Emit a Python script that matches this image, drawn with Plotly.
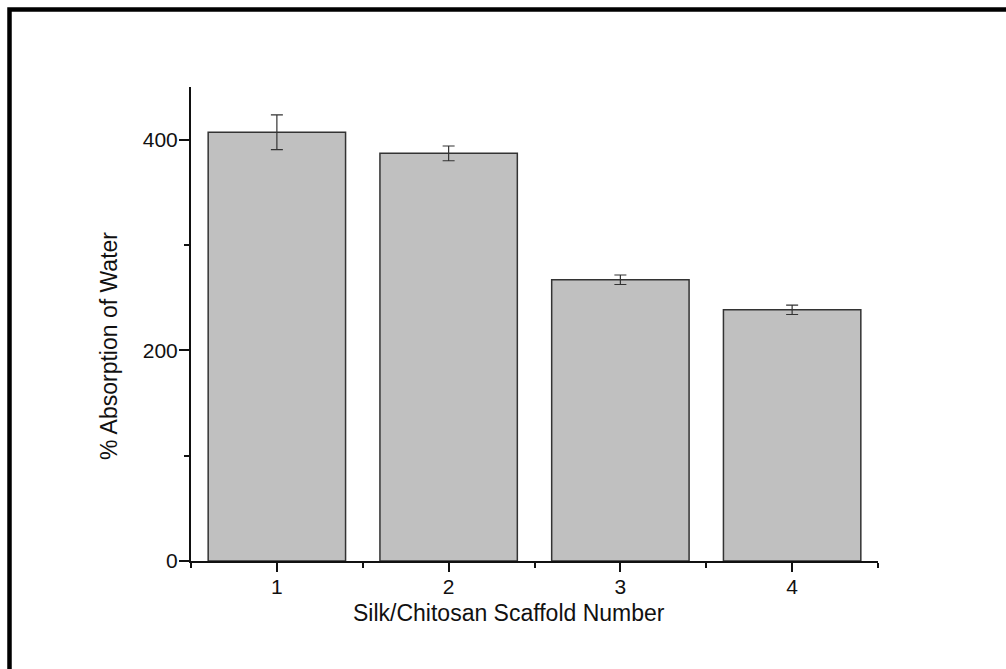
import plotly.graph_objects as go

# Water absorption of silk/chitosan scaffolds
scaffolds = [1, 2, 3, 4]
absorption = [407, 387, 267, 238.5]
absorption_err = [16.5, 7, 4.5, 4.5]

tick_vals = [0, 200, 400]
tick_text = ["0", "200", "400"]

x_title = "Silk/Chitosan Scaffold Number"
y_title = "% Absorption of Water"

fig = go.Figure()
fig.add_trace(go.Bar(
    x=scaffolds,
    y=absorption,
    width=0.8,
    marker=dict(color="#C0C0C0", line=dict(color="#333333", width=1.5)),
    error_y=dict(type="data", array=absorption_err, visible=True,
                 color="#333333", thickness=1.2, width=6),
    showlegend=False,
))

font_family = "Liberation Sans, Arial, sans-serif"
W, H = 1006, 669
L, R, T, B = 191, 128, 87, 108
pw, ph = W - L - R, H - T - B


def px_to_paper_x(px):
    return (px - L) / pw


def px_to_paper_y(py):
    return (H - B - py) / ph


fig.update_layout(
    width=W, height=H,
    margin=dict(l=L, r=R, t=T, b=B),
    paper_bgcolor="white",
    plot_bgcolor="white",
    font=dict(family=font_family, color="#111111"),
    bargap=0.2,
    xaxis=dict(
        range=[0.5, 4.5],
        tickmode="array", tickvals=scaffolds, ticktext=[str(s) for s in scaffolds],
        ticks="outside", ticklen=9, tickwidth=2, tickcolor="#111111",
        showline=True, linecolor="#111111", linewidth=2,
        showgrid=False, zeroline=False,
        tickfont=dict(size=21, family=font_family),
        ticklabelstandoff=-3,
        minor=dict(tickmode="array", tickvals=[0.5, 1.5, 2.5, 3.5, 4.5],
                   ticks="outside", ticklen=5, tickwidth=2, tickcolor="#111111"),
    ),
    yaxis=dict(
        range=[0, 450],
        tickmode="array", tickvals=tick_vals, ticktext=tick_text,
        ticks="outside", ticklen=10, tickwidth=2, tickcolor="#111111",
        showline=True, linecolor="#111111", linewidth=2,
        showgrid=False, zeroline=False,
        tickfont=dict(size=21, family=font_family),
        ticklabelstandoff=-3,
        minor=dict(tickmode="array", tickvals=[100, 300],
                   ticks="outside", ticklen=5, tickwidth=2, tickcolor="#111111"),
    ),
    annotations=[
        dict(text=x_title, xref="paper", yref="paper",
             x=px_to_paper_x(509), y=px_to_paper_y(613),
             xanchor="center", yanchor="middle", showarrow=False,
             font=dict(size=23, family=font_family, color="#111111")),
        dict(text=y_title, xref="paper", yref="paper",
             x=px_to_paper_x(109), y=px_to_paper_y(346),
             xanchor="center", yanchor="middle", showarrow=False, textangle=-90,
             font=dict(size=23, family=font_family, color="#111111")),
    ],
    shapes=[dict(
        type="rect", xref="paper", yref="paper",
        x0=px_to_paper_x(9.5), x1=px_to_paper_x(1030),
        y0=px_to_paper_y(690), y1=px_to_paper_y(9.5),
        line=dict(color="black", width=4.5), fillcolor="rgba(0,0,0,0)",
        layer="above",
    )],
)

fig.write_html("out.html")
